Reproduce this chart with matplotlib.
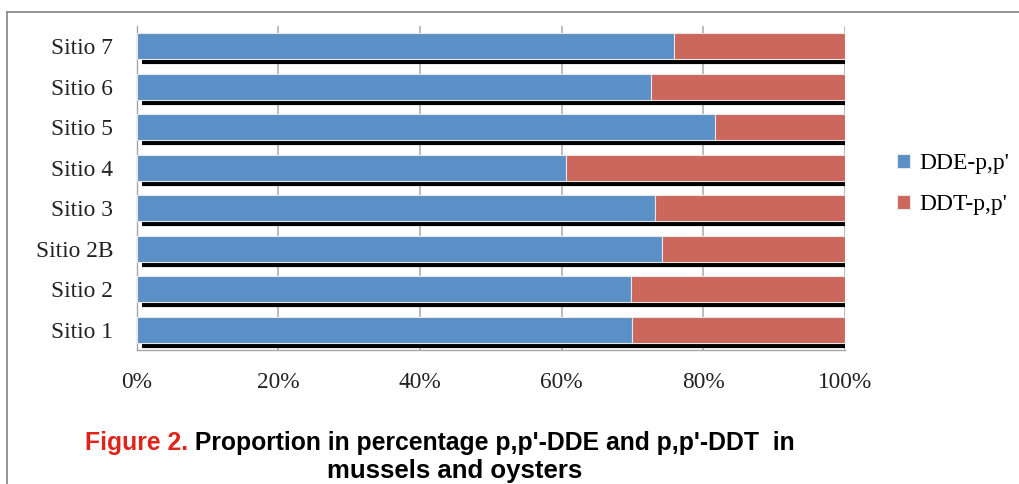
import matplotlib
matplotlib.use("Agg")
import matplotlib.pyplot as plt
from matplotlib.lines import Line2D

sites = ['Sitio 1', 'Sitio 2', 'Sitio 2B', 'Sitio 3', 'Sitio 4', 'Sitio 5', 'Sitio 6', 'Sitio 7']
dde = [0.700, 0.698, 0.742, 0.732, 0.606, 0.817, 0.727, 0.759]
ddt = [1 - v for v in dde]
series_names = ["DDE-p,p'", "DDT-p,p'"]
colors = ['#5B90C6', '#CB675C']

serif = ['Liberation Serif', 'DejaVu Serif']

fig = plt.figure(figsize=(10.2, 4.84), dpi=100)
ax = fig.add_axes([136.7 / 1020, 134 / 484, 708 / 1020, 324 / 484])

y = list(range(len(sites)))
h = 0.64
ax.barh(y, dde, height=h, color=colors[0], edgecolor='#E6E6E6', linewidth=0.8,
        label=series_names[0], zorder=3)
ax.barh(y, ddt, left=dde, height=h, color=colors[1], edgecolor='#E6E6E6', linewidth=0.8,
        label=series_names[1], zorder=3)

# dark strip under each bar
for i, (a, b) in enumerate(zip(dde, ddt)):
    ax.hlines(i - 0.395, 0.007, a + b + 0.002, color='black', linewidth=3.0, zorder=2)

ax.set_xlim(0, 1)
ax.set_ylim(-0.5, len(sites) - 0.5)
ax.set_xticks([0, 0.2, 0.4, 0.6, 0.8, 1.0])
ax.set_xticklabels(['0%', '20%', '40%', '60%', '80%', '100%'])
ax.set_yticks(y)
ax.set_yticklabels(sites)
for lab in ax.get_xticklabels() + ax.get_yticklabels():
    lab.set_family(serif)
    lab.set_fontsize(16.8)
    lab.set_color('#222222')
ax.tick_params(axis='y', length=0, pad=17)
ax.tick_params(axis='x', length=0, pad=16)
ax.grid(axis='x', color='#B0B0B0', linewidth=1.2, zorder=0)
for s in ['top', 'right']:
    ax.spines[s].set_visible(False)
for s in ['left', 'bottom']:
    ax.spines[s].set_color('#A6A6A6')
    ax.spines[s].set_linewidth(1.0)

fig.legend(loc='center left', bbox_to_anchor=(876 / 1020, 1 - 184 / 484),
           frameon=False, prop={'family': serif, 'size': 17},
           handlelength=0.55, handleheight=0.55, handletextpad=0.4,
           labelspacing=0.85)

# frame lines along top and left
fig.add_artist(Line2D([7 / 1020, 1], [1 - 12 / 484, 1 - 12 / 484],
                      transform=fig.transFigure, color='#8C8C8C', linewidth=1.3))
fig.add_artist(Line2D([7 / 1020, 7 / 1020], [0, 1 - 12 / 484],
                      transform=fig.transFigure, color='#8C8C8C', linewidth=1.3))

# caption
cap_font = ['Liberation Sans', 'DejaVu Sans']
red = fig.text(85 / 1020, 1 - 450 / 484, 'Figure 2.', color='#E0231B',
               fontsize=17.8, fontweight='bold', family=cap_font, va='baseline')
fig.add_artist(plt.Annotation(" Proportion in percentage p,p'-DDE and p,p'-DDT  in",
                              xy=(1, 0), xycoords=red, va='bottom', ha='left',
                              color='black', fontsize=17.8, fontweight='bold',
                              family=cap_font, annotation_clip=False))
fig.text(455 / 1020, 1 - 478 / 484, 'mussels and oysters', color='black',
         fontsize=18.5, fontweight='bold', family=cap_font, ha='center', va='baseline')

fig.savefig('out.png', dpi=100)
